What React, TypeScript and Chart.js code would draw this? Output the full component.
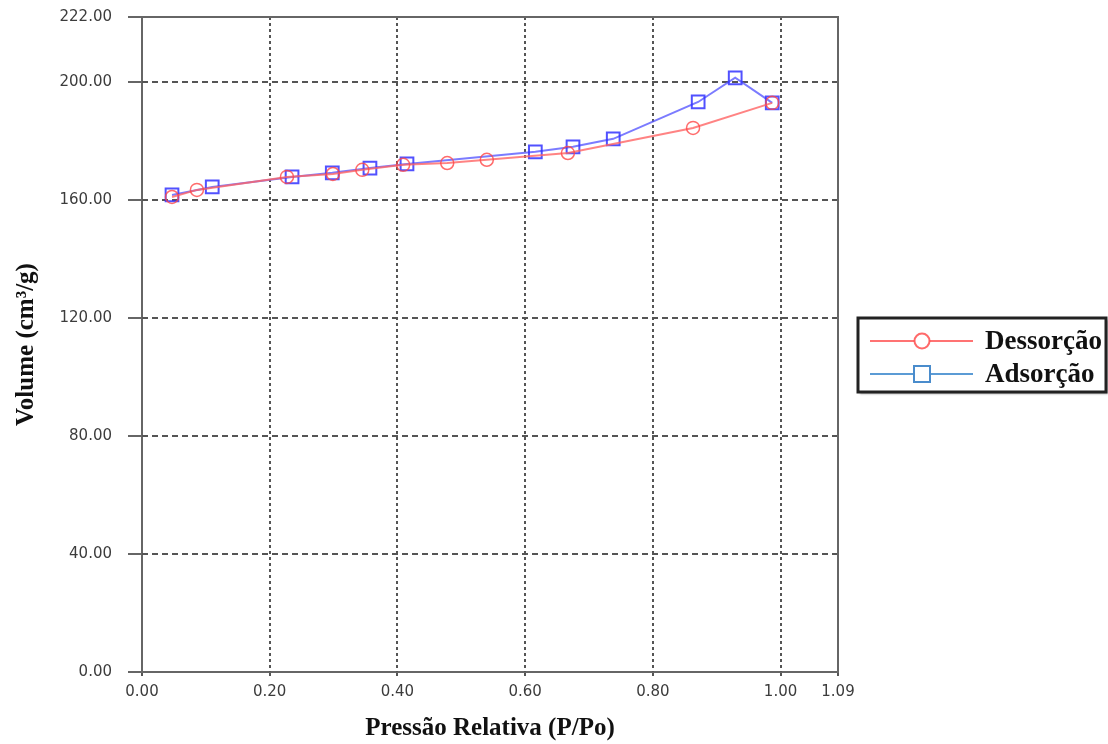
import React, { useEffect, useRef } from "react";
import { Chart, registerables } from "chart.js";

Chart.register(...registerables);

const desX = [0.047, 0.086, 0.227, 0.299, 0.345, 0.409, 0.478, 0.540, 0.667, 0.863, 0.987];
const desY = [161.0, 163.4, 167.8, 168.8, 170.2, 171.9, 172.5, 173.6, 175.9, 184.4, 192.9];
const adsX = [0.047, 0.110, 0.235, 0.298, 0.357, 0.415, 0.616, 0.675, 0.738, 0.871, 0.929, 0.987];
const adsY = [161.7, 164.4, 167.8, 169.2, 170.8, 172.2, 176.3, 178.0, 180.7, 193.2, 201.4, 192.9];

const xTicks = [0, 0.2, 0.4, 0.6, 0.8, 1.0, 1.09];
const yTicks = [0, 40, 80, 120, 160, 200, 222];
const seriesNames = ["Dessorção", "Adsorção"];
const xTitle = "Pressão Relativa (P/Po)";
const yTitle = "Volume (cm³/g)";

const SERIF = "'Liberation Serif', 'Times New Roman', serif";
const TICKFONT = "'DejaVu Sans', Verdana, sans-serif";

const framePlugin = {
  id: "frame",
  beforeDatasetsDraw(chart: any) {
    const { ctx, chartArea } = chart;
    const xs = chart.scales.x;
    const ys = chart.scales.y;
    ctx.save();
    ctx.strokeStyle = "#555";
    ctx.lineWidth = 2;
    ctx.setLineDash([6, 4]);
    yTicks.forEach((v) => {
      if (v === 0 || v === 222) return;
      const y = Math.round(ys.getPixelForValue(v));
      ctx.beginPath();
      ctx.moveTo(chartArea.left, y);
      ctx.lineTo(chartArea.right, y);
      ctx.stroke();
    });
    ctx.setLineDash([3, 3]);
    xTicks.forEach((v) => {
      if (v === 0 || v === 1.09) return;
      const x = Math.round(xs.getPixelForValue(v));
      ctx.beginPath();
      ctx.moveTo(x, chartArea.top);
      ctx.lineTo(x, chartArea.bottom);
      ctx.stroke();
    });
    ctx.setLineDash([]);
    ctx.strokeStyle = "#666";
    const top = Math.round(ys.getPixelForValue(222));
    const right = Math.round(xs.getPixelForValue(1.09));
    ctx.beginPath();
    ctx.moveTo(chartArea.left, top);
    ctx.lineTo(right, top);
    ctx.lineTo(right, chartArea.bottom);
    ctx.stroke();
    ctx.restore();
  },
  afterDraw(chart: any) {
    const { ctx } = chart;
    const bx = 858, by = 318, bw = 248, bh = 74;
    ctx.save();
    ctx.fillStyle = "#fff";
    ctx.shadowColor = "rgba(0,0,0,0.35)";
    ctx.shadowOffsetX = 2;
    ctx.shadowOffsetY = 2;
    ctx.shadowBlur = 2;
    ctx.fillRect(bx, by, bw, bh);
    ctx.shadowColor = "transparent";
    ctx.strokeStyle = "#222";
    ctx.lineWidth = 3;
    ctx.strokeRect(bx, by, bw, bh);
    const entries = [
      { y: 341, line: "rgba(255,90,90,0.85)", mark: "rgba(255,80,80,0.85)", shape: "circle" },
      { y: 374, line: "#5b9bd5", mark: "#4a8ccc", shape: "rect" },
    ];
    entries.forEach((e, i) => {
      ctx.strokeStyle = e.line;
      ctx.lineWidth = 2;
      ctx.beginPath();
      ctx.moveTo(870, e.y);
      ctx.lineTo(973, e.y);
      ctx.stroke();
      ctx.strokeStyle = e.mark;
      ctx.fillStyle = "#fff";
      ctx.beginPath();
      if (e.shape === "circle") ctx.arc(922, e.y, 7.5, 0, Math.PI * 2);
      else ctx.rect(914, e.y - 8, 16, 16);
      ctx.fill();
      ctx.stroke();
      ctx.fillStyle = "#111";
      ctx.font = `bold 27px ${SERIF}`;
      ctx.textBaseline = "middle";
      ctx.textAlign = "left";
      ctx.fillText(seriesNames[i], 985, e.y + 1);
    });
    ctx.restore();
  },
};

export default function App() {
  const ref = useRef<HTMLCanvasElement | null>(null);
  useEffect(() => {
    if (!ref.current) return;
    const chart = new Chart(ref.current, {
      type: "line",
      data: {
        datasets: [
          {
            label: seriesNames[0],
            data: desX.map((x, i) => ({ x, y: desY[i] })),
            borderColor: "rgba(255,100,100,0.8)",
            borderWidth: 2,
            pointStyle: "circle",
            pointRadius: 6.5,
            pointBorderColor: "rgba(255,70,70,0.8)",
            pointBackgroundColor: "rgba(255,255,255,0)",
            pointBorderWidth: 1.5,
            tension: 0,
          },
          {
            label: seriesNames[1],
            data: adsX.map((x, i) => ({ x, y: adsY[i] })),
            borderColor: "rgba(90,90,255,0.8)",
            borderWidth: 2,
            pointStyle: "rect",
            pointRadius: 9,
            pointBorderColor: "rgba(50,50,255,0.85)",
            pointBackgroundColor: "rgba(255,255,255,0)",
            pointBorderWidth: 2,
            tension: 0,
          },
        ],
      },
      options: {
        animation: false,
        responsive: false,
        layout: { padding: { left: 0, right: 270, top: 17, bottom: 0 } },
        plugins: { legend: { display: false }, tooltip: { enabled: false } },
        scales: {
          x: {
            type: "linear",
            min: 0,
            max: 1.09,
            afterBuildTicks: (s: any) => {
              s.ticks = xTicks.map((v) => ({ value: v }));
            },
            afterFit: (s: any) => {
              s.height = 72;
            },
            grid: { display: true, drawOnChartArea: false, drawTicks: true, tickLength: 4, color: "#555", lineWidth: 2 },
            border: { display: true, color: "#666", width: 2 },
            ticks: {
              autoSkip: false,
              maxRotation: 0,
              padding: 7,
              color: "#3c3c3c",
              font: { family: TICKFONT, size: 15 },
              callback: (v: any) => Number(v).toFixed(2),
            },
            title: {
              display: true,
              text: xTitle,
              color: "#111",
              font: { family: SERIF, size: 25, weight: "bold" },
              padding: { top: 0, bottom: 0 },
            },
          },
          y: {
            type: "linear",
            min: 0,
            max: 222,
            afterBuildTicks: (s: any) => {
              s.ticks = yTicks.map((v) => ({ value: v }));
            },
            afterFit: (s: any) => {
              s.width = 142;
              s.paddingTop = 0;
              s.paddingBottom = 0;
            },
            grid: { display: true, drawOnChartArea: false, drawTicks: true, tickLength: 14, color: "#666", lineWidth: 2 },
            border: { display: true, color: "#666", width: 2 },
            ticks: {
              autoSkip: false,
              padding: 16,
              color: "#3c3c3c",
              font: { family: TICKFONT, size: 15 },
              callback: (v: any) => Number(v).toFixed(2),
            },
            title: {
              display: true,
              text: yTitle,
              color: "#111",
              font: { family: SERIF, size: 25, weight: "bold" },
              padding: { top: 12, bottom: 0 },
            },
          },
        },
      },
      plugins: [framePlugin],
    });
    return () => chart.destroy();
  }, []);
  return (
    <div style={{ position: "fixed", left: 0, top: 0, width: 1108, height: 744, background: "#fff" }}>
      <canvas ref={ref} width={1108} height={744} style={{ width: 1108, height: 744, display: "block" }} />
    </div>
  );
}
